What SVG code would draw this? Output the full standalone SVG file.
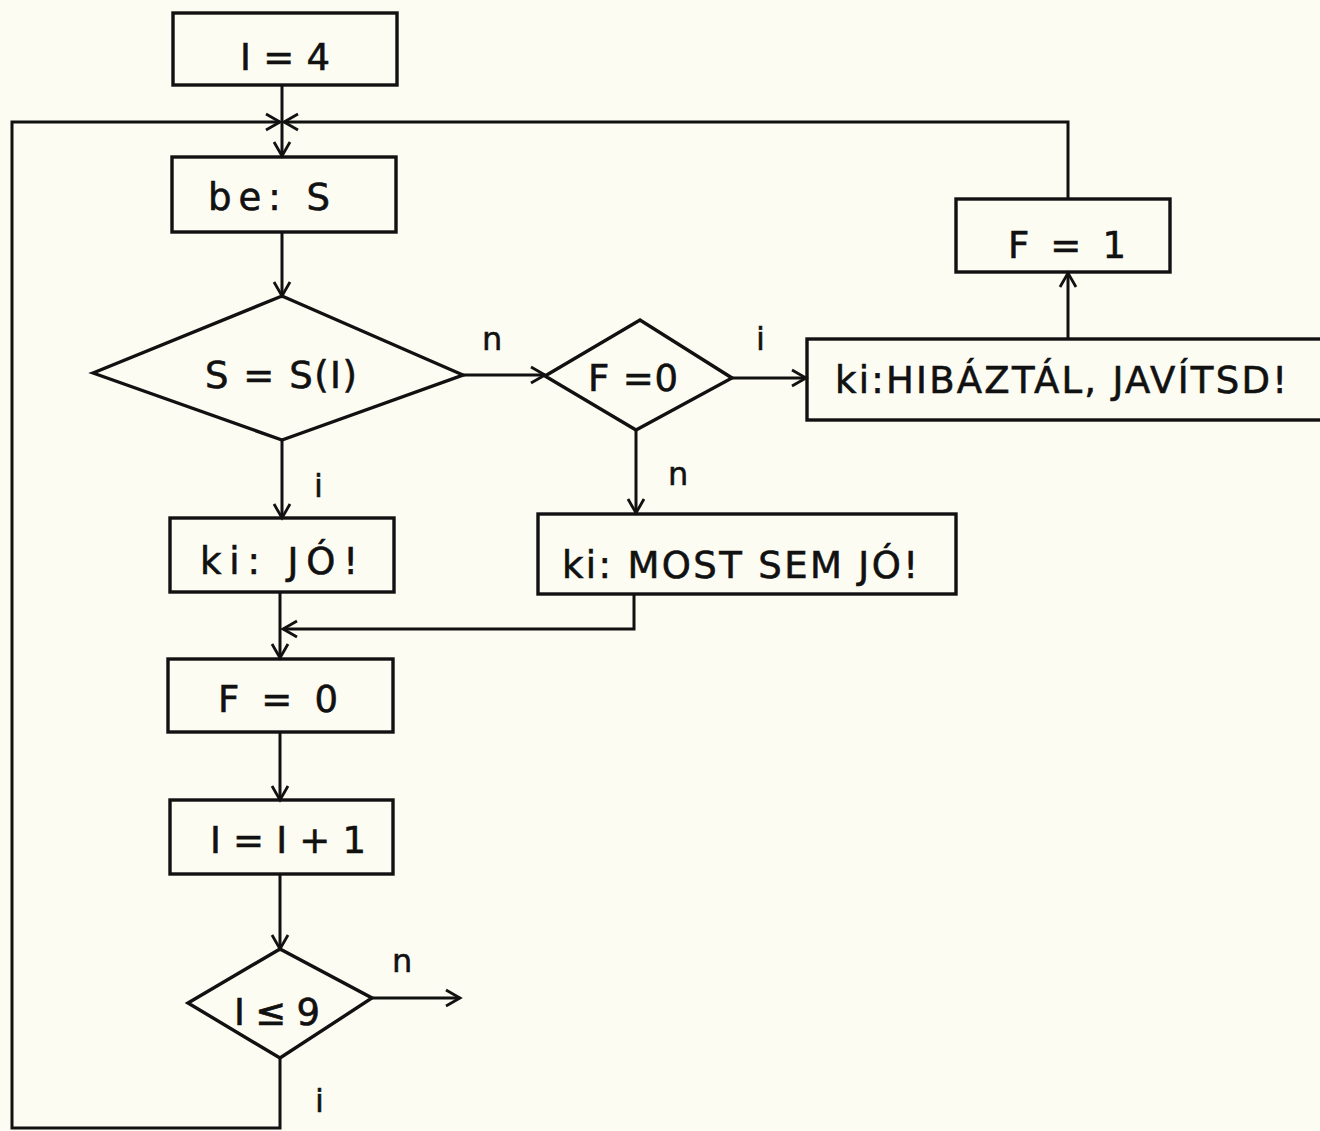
<svg xmlns="http://www.w3.org/2000/svg" width="1320" height="1131" viewBox="0 0 1320 1131">
  <defs>
    <style>
      .box { fill: none; stroke: #111; stroke-width: 3.4; }
      .line { fill: none; stroke: #111; stroke-width: 3; }
      .t { font-family: "DejaVu Sans", "Liberation Sans", sans-serif; font-size: 37px; fill: #111; stroke: #111; stroke-width: 0.6; }
      .lbl { font-family: "DejaVu Sans", "Liberation Sans", sans-serif; font-size: 32px; fill: #111; stroke: #111; stroke-width: 0.5; }
    </style>
    <marker id="arrow" markerUnits="userSpaceOnUse" markerWidth="24" markerHeight="24" refX="16" refY="10" orient="auto">
      <path d="M2,2 L16,10 L2,18" fill="none" stroke="#111" stroke-width="2.8"/>
    </marker>
  </defs>

  <rect width="1320" height="1131" fill="#fdfcf3"/>

  <!-- connectors -->
  <g id="connectors">
    <path class="line" d="M282,85 V156" marker-end="url(#arrow)"/>
    <path class="line" d="M282,232 V296" marker-end="url(#arrow)"/>
    <path class="line" d="M463,375 H545" marker-end="url(#arrow)"/>
    <path class="line" d="M732,378 H806" marker-end="url(#arrow)"/>
    <path class="line" d="M1068,338 V273" marker-end="url(#arrow)"/>
    <path class="line" d="M1068,198 V122 H284" marker-end="url(#arrow)"/>
    <path class="line" d="M282,440 V518" marker-end="url(#arrow)"/>
    <path class="line" d="M636,430 V513" marker-end="url(#arrow)"/>
    <path class="line" d="M634,594 V629 H283" marker-end="url(#arrow)"/>
    <path class="line" d="M280,592 V658" marker-end="url(#arrow)"/>
    <path class="line" d="M280,732 V800" marker-end="url(#arrow)"/>
    <path class="line" d="M280,874 V949" marker-end="url(#arrow)"/>
    <path class="line" d="M372,998 H460" marker-end="url(#arrow)"/>
    <path class="line" d="M280,1058 V1128 H12 V122 H280" marker-end="url(#arrow)"/>
    <text class="lbl" x="482" y="350">n</text>
    <text class="lbl" x="756" y="350">i</text>
    <text class="lbl" x="314" y="497">i</text>
    <text class="lbl" x="668" y="485">n</text>
    <text class="lbl" x="392" y="972">n</text>
    <text class="lbl" x="315" y="1112">i</text>
  </g>

  <g id="n-init">
    <rect class="box" x="173" y="13" width="224" height="72"/>
    <text class="t" x="240" y="70" textLength="90" lengthAdjust="spacing">I = 4</text>
  </g>

  <g id="n-input">
    <rect class="box" x="172" y="157" width="224" height="75"/>
    <text class="t" x="208" y="210" textLength="122" lengthAdjust="spacing">be: S</text>
  </g>

  <g id="n-check">
    <polygon class="box" points="93,373 282,296 463,375 282,440"/>
    <text class="t" x="205" y="388" textLength="152" lengthAdjust="spacing">S = S(I)</text>
  </g>

  <g id="n-flag-test">
    <polygon class="box" points="545,376 640,320 732,378 636,430"/>
    <text class="t" x="588" y="391" textLength="90" lengthAdjust="spacing">F =0</text>
  </g>

  <g id="n-error">
    <rect class="box" x="807" y="339" width="520" height="81"/>
    <text class="t" x="835" y="393" textLength="452" lengthAdjust="spacing">ki:HIBÁZTÁL, JAVÍTSD!</text>
  </g>

  <g id="n-flag-set">
    <rect class="box" x="956" y="199" width="214" height="73"/>
    <text class="t" x="1008" y="258" textLength="118" lengthAdjust="spacing">F = 1</text>
  </g>

  <g id="n-good">
    <rect class="box" x="170" y="518" width="224" height="74"/>
    <text class="t" x="200" y="574" textLength="158" lengthAdjust="spacing">ki:  JÓ!</text>
  </g>

  <g id="n-still-wrong">
    <rect class="box" x="538" y="514" width="418" height="80"/>
    <text class="t" x="562" y="578" textLength="356" lengthAdjust="spacing">ki: MOST SEM JÓ!</text>
  </g>

  <g id="n-flag-reset">
    <rect class="box" x="168" y="659" width="225" height="73"/>
    <text class="t" x="218" y="712" textLength="120" lengthAdjust="spacing">F =  0</text>
  </g>

  <g id="n-increment">
    <rect class="box" x="170" y="800" width="223" height="74"/>
    <text class="t" x="210" y="853" textLength="156" lengthAdjust="spacing">I = I + 1</text>
  </g>

  <g id="n-limit">
    <polygon class="box" points="188,1003 280,949 372,998 280,1058"/>
    <text class="t" x="234" y="1025" textLength="86" lengthAdjust="spacing">I ≤ 9</text>
  </g>
</svg>
